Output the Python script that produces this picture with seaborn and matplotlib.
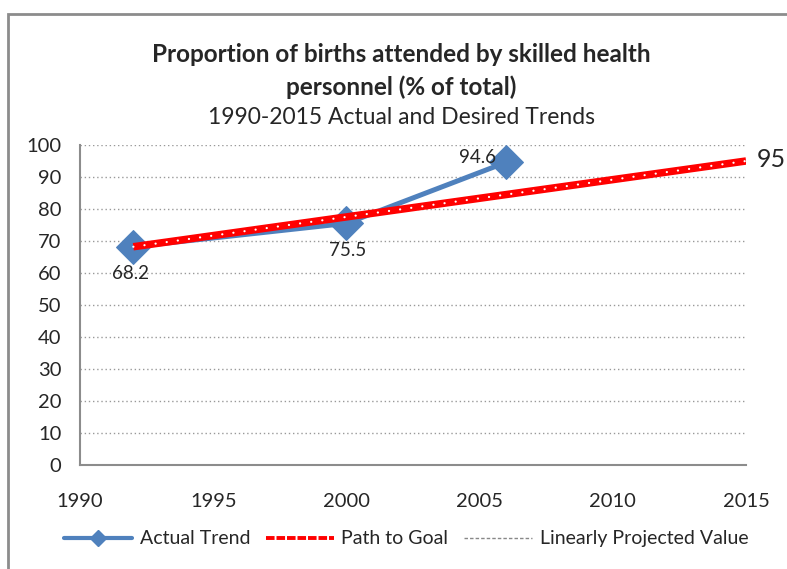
import pandas as pd
import matplotlib.pyplot as plt
import seaborn as sns
from matplotlib.lines import Line2D
from matplotlib.patches import Rectangle
from matplotlib.ticker import MultipleLocator

anos_reais = [1992, 2000, 2006]
valores_reais = [68.2, 75.5, 94.6]
anos_meta = [1992, 2015]
valores_meta = [68.2, 95]
rotulo_meta = "95"

sns.set_style("white")
plt.rcParams['font.family'] = ['Lato', 'DejaVu Sans']

df_real = pd.DataFrame({'Ano': anos_reais, 'Valor': valores_reais})
df_meta = pd.DataFrame({'Ano': anos_meta, 'Valor': valores_meta})

fig = plt.figure(figsize=(7.87, 5.69), dpi=100)
ax = fig.add_axes([0.1017, 0.1828, 0.8463, 0.5624])

# moldura cinza (so esquerda e topo aparecem)
fig.patches.append(Rectangle((8 / 787, -0.1), 1.2, (569 - 14) / 569 + 0.1,
                             transform=fig.transFigure, fill=False,
                             edgecolor='#8c8c8c', linewidth=2))

sns.lineplot(data=df_real, x='Ano', y='Valor', ax=ax, color='#4F81BD',
             linewidth=3.6, marker='D', markersize=17, markeredgecolor='#4F81BD', zorder=3)
sns.lineplot(data=df_meta, x='Ano', y='Valor', ax=ax, color='#FF0000',
             linewidth=5.4, solid_capstyle='butt', zorder=4)
sns.lineplot(data=df_meta, x='Ano', y='Valor', ax=ax, color='white',
             linewidth=1.6, linestyle=(0, (0.05, 5)), dash_capstyle='round', zorder=5)

ax.set_xlim(1990, 2015)
ax.set_ylim(0, 100)
ax.xaxis.set_major_locator(MultipleLocator(5))
ax.xaxis.set_minor_locator(MultipleLocator(1))
ax.yaxis.set_major_locator(MultipleLocator(10))
ax.grid(axis='y', color='#999999', linestyle=(0, (1, 2)), linewidth=1)
ax.set_xlabel('')
ax.set_ylabel('')
for lado in ['top', 'right']:
    ax.spines[lado].set_visible(False)
for lado in ['left', 'bottom']:
    ax.spines[lado].set_color('#8c8c8c')
    ax.spines[lado].set_linewidth(1.5)
ax.tick_params(axis='both', which='both', color='#8c8c8c', width=1.5)
ax.tick_params(axis='y', direction='out', length=4.5, labelsize=14.5, pad=9)
ax.tick_params(axis='x', which='major', direction='inout', length=8, labelsize=14.5, pad=16)
ax.tick_params(axis='x', which='minor', direction='in', length=3.6)

ax.annotate(f"{valores_reais[0]}", (anos_reais[0], valores_reais[0]), xytext=(-2, -19),
            textcoords='offset points', ha='center', va='center', fontsize=13.5)
ax.annotate(f"{valores_reais[1]}", (anos_reais[1], valores_reais[1]), xytext=(1, -19.5),
            textcoords='offset points', ha='center', va='center', fontsize=13.5)
ax.annotate(f"{valores_reais[2]}", (anos_reais[2], valores_reais[2]), xytext=(-21, 3.6),
            textcoords='offset points', ha='center', va='center', fontsize=13.5)
ax.annotate(rotulo_meta, (anos_meta[1], valores_meta[1]), xytext=(8, 1),
            textcoords='offset points', ha='left', va='center', fontsize=18)

fig.text(0.51, 0.905, 'Proportion of births attended by skilled health',
         ha='center', va='center', fontsize=17.5, fontweight='bold')
fig.text(0.51, 0.846, 'personnel (% of total)',
         ha='center', va='center', fontsize=17.5, fontweight='bold')
fig.text(0.51, 0.794, '1990-2015 Actual and Desired Trends', ha='center', va='center', fontsize=16.5)

alcas = [
    Line2D([], [], color='#4F81BD', lw=3, marker='D', markersize=8),
    Line2D([], [], color='#FF0000', lw=2.8, linestyle=(0, (2.2, 0.5))),
    Line2D([], [], color='#888888', lw=1, linestyle=(0, (2.5, 1.5))),
]
fig.legend(alcas, ['Actual Trend', 'Path to Goal', 'Linearly Projected Value'],
           loc='center', bbox_to_anchor=(0.516, 0.053), ncol=3, frameon=False,
           fontsize=14, handlelength=3.5, columnspacing=0.8, handletextpad=0.4)

fig.savefig('out.png', dpi=100)
